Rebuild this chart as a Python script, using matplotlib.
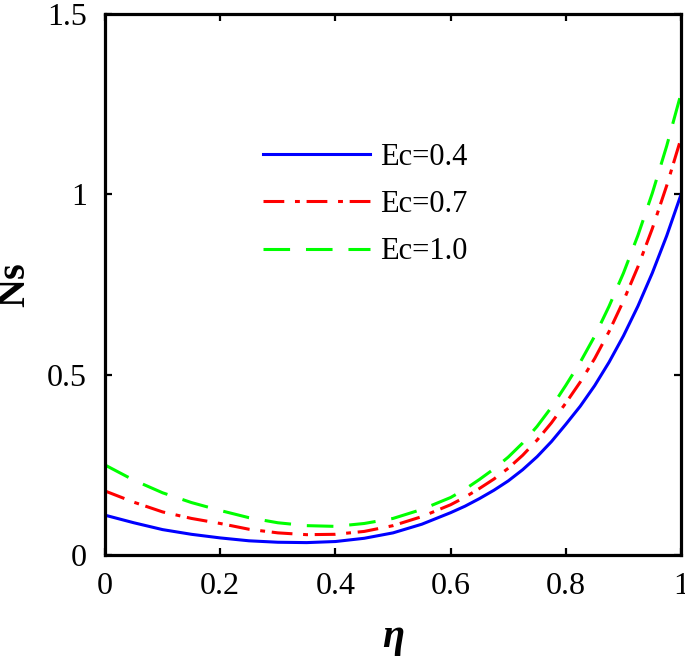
import numpy as np
import matplotlib
matplotlib.use("Agg")
import matplotlib.pyplot as plt

plt.rcParams['font.family'] = ['Liberation Serif', 'DejaVu Serif']

# data
eta = [0.0, 0.05, 0.1, 0.15, 0.2, 0.25, 0.3, 0.35, 0.4, 0.45, 0.5, 0.55,
       0.6, 0.625, 0.65, 0.675, 0.7, 0.725, 0.75, 0.775, 0.8,
       0.825, 0.85, 0.875, 0.9, 0.925, 0.95, 0.975, 1.0]
ns_ec04 = [0.111, 0.090, 0.071, 0.058, 0.048, 0.040, 0.036, 0.035, 0.038, 0.047, 0.062, 0.086,
           0.118, 0.136, 0.157, 0.180, 0.206, 0.237, 0.273, 0.315, 0.363,
           0.413, 0.470, 0.535, 0.608, 0.690, 0.782, 0.885, 1.000]
ns_ec07 = [0.178, 0.147, 0.120, 0.102, 0.088, 0.072, 0.062, 0.057, 0.058, 0.066, 0.082, 0.107,
           0.140, 0.161, 0.185, 0.211, 0.241, 0.277, 0.319, 0.367, 0.422,
           0.480, 0.545, 0.620, 0.705, 0.799, 0.905, 1.024, 1.156]
ns_ec10 = [0.250, 0.208, 0.173, 0.146, 0.124, 0.104, 0.090, 0.082, 0.080, 0.088, 0.102, 0.127,
           0.160, 0.183, 0.210, 0.239, 0.272, 0.311, 0.357, 0.410, 0.471,
           0.535, 0.607, 0.690, 0.782, 0.886, 1.003, 1.134, 1.280]
labels = ['Ec=0.4', 'Ec=0.7', 'Ec=1.0']

xticks = [0, 0.2, 0.4, 0.6, 0.8, 1]
xticklabels = ['0', '0.2', '0.4', '0.6', '0.8', '1']
yticks = [0, 0.5, 1, 1.5]
yticklabels = ['0', '0.5', '1', '1.5']

fig = plt.figure(figsize=(6.85, 6.61), dpi=100)
ax = fig.add_axes([0.1533, 0.160, 0.841, 0.819])

lw = 2.2
ax.plot(eta, ns_ec04, color='#0000ff', lw=lw, label=labels[0])
ax.plot(eta, ns_ec07, color='#ff0000', lw=lw, label=labels[1],
        linestyle=(0, (6.8, 3.5, 1.6, 2.2)))
ax.plot(eta, ns_ec10, color='#00ff00', lw=lw, label=labels[2],
        linestyle=(0, (8.7, 5.2)))

ax.set_xlim(0, 1)
ax.set_ylim(0, 1.5)
ax.set_xticks(xticks)
ax.set_xticklabels(xticklabels)
ax.set_yticks(yticks)
ax.set_yticklabels(yticklabels)
ax.tick_params(direction='in', length=5, width=1.6, labelsize=23,
               top=True, right=True)
ax.tick_params(axis='x', pad=12)
ax.tick_params(axis='y', pad=13)
for s in ax.spines.values():
    s.set_linewidth(2.3)

ax.set_xlabel('η', fontsize=29, fontweight='bold', fontstyle='italic', labelpad=13)
ax.set_ylabel('Ns', fontsize=29, fontweight='bold', labelpad=10)

ax.legend(loc='upper left', bbox_to_anchor=(0.274, 0.762), frameon=False,
          fontsize=22, handlelength=3.5, handletextpad=0.35,
          labelspacing=0.6, borderpad=0, borderaxespad=0)

fig.savefig('out.png', dpi=100)
